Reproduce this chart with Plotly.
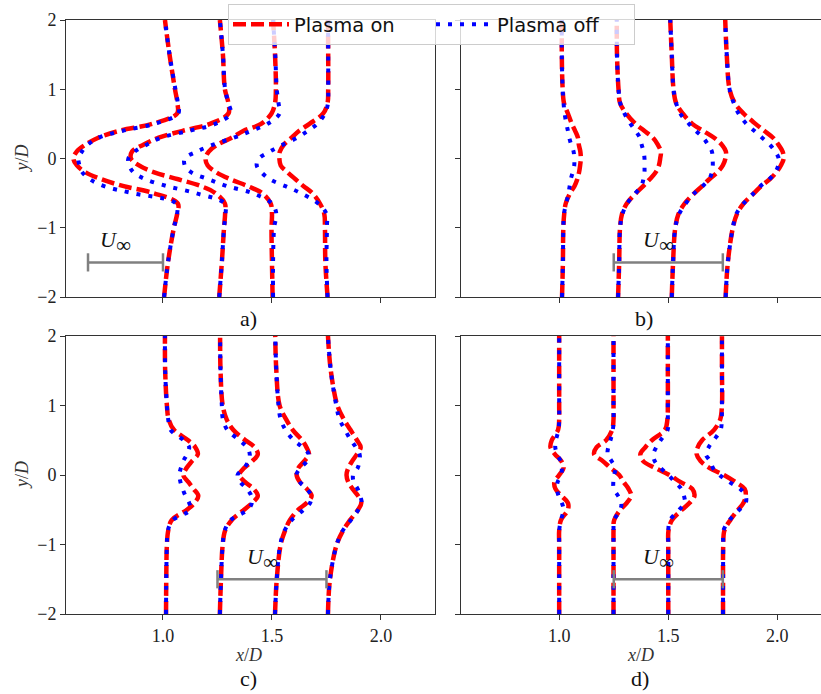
import plotly.graph_objects as go

# Common y/D sampling used by every profile
y_pos = [-2.0, -1.5, -1.0, -0.8, -0.65, -0.5, -0.4, -0.3, -0.2, -0.1, 0.0,
         0.1, 0.2, 0.3, 0.4, 0.5, 0.65, 0.8, 1.0, 1.5, 2.0]

# Streamwise stations x/D
stations = [1.0, 1.25, 1.5, 1.75]

# Profile positions (x/D) for each station; panel a
a_on = [
    [1.005, 1.023, 1.05, 1.065, 1.068, 0.956, 0.82, 0.718, 0.645, 0.605, 0.589, 0.604, 0.645, 0.703, 0.80, 0.95, 1.065, 1.066, 1.055, 1.03, 1.009],
    [1.258, 1.27, 1.28, 1.285, 1.284, 1.24, 1.175, 1.07, 0.96, 0.89, 0.853, 0.858, 0.91, 0.98, 1.09, 1.215, 1.30, 1.30, 1.284, 1.275, 1.261],
    [1.503, 1.5, 1.498, 1.5, 1.494, 1.455, 1.39, 1.31, 1.245, 1.205, 1.195, 1.21, 1.25, 1.315, 1.37, 1.45, 1.498, 1.514, 1.518, 1.514, 1.505],
    [1.755, 1.745, 1.743, 1.74, 1.72, 1.685, 1.645, 1.608, 1.572, 1.54, 1.534, 1.536, 1.555, 1.59, 1.625, 1.672, 1.735, 1.755, 1.758, 1.758, 1.757],
]
a_off = [
    [1.005, 1.023, 1.05, 1.065, 1.06, 0.86, 0.73, 0.665, 0.63, 0.617, 0.612, 0.628, 0.655, 0.705, 0.815, 0.96, 1.07, 1.068, 1.057, 1.03, 1.009],
    [1.258, 1.27, 1.28, 1.287, 1.283, 1.15, 1.02, 0.92, 0.865, 0.845, 0.841, 0.87, 0.925, 0.99, 1.12, 1.24, 1.31, 1.30, 1.285, 1.275, 1.261],
    [1.505, 1.505, 1.51, 1.52, 1.50, 1.41, 1.295, 1.21, 1.13, 1.10, 1.10, 1.155, 1.23, 1.325, 1.405, 1.48, 1.535, 1.53, 1.522, 1.515, 1.505],
    [1.755, 1.75, 1.752, 1.75, 1.712, 1.632, 1.562, 1.49, 1.452, 1.43, 1.44, 1.49, 1.55, 1.616, 1.665, 1.708, 1.743, 1.757, 1.758, 1.758, 1.757],
]

# Panel b
b_on = [
    [1.013, 1.017, 1.019, 1.023, 1.03, 1.05, 1.07, 1.083, 1.091, 1.096, 1.099, 1.097, 1.09, 1.086, 1.073, 1.058, 1.04, 1.022, 1.016, 1.012, 1.012],
    [1.27, 1.275, 1.279, 1.288, 1.31, 1.352, 1.385, 1.415, 1.442, 1.457, 1.463, 1.466, 1.452, 1.43, 1.39, 1.35, 1.307, 1.279, 1.272, 1.265, 1.264],
    [1.516, 1.522, 1.532, 1.547, 1.575, 1.62, 1.655, 1.688, 1.724, 1.75, 1.762, 1.764, 1.745, 1.71, 1.66, 1.61, 1.566, 1.536, 1.524, 1.516, 1.509],
    [1.763, 1.773, 1.796, 1.815, 1.845, 1.893, 1.925, 1.965, 1.995, 2.016, 2.029, 2.024, 2.005, 1.98, 1.94, 1.9, 1.845, 1.805, 1.781, 1.768, 1.761],
]
b_off = [
    [1.013, 1.017, 1.019, 1.022, 1.032, 1.043, 1.048, 1.053, 1.062, 1.069, 1.069, 1.066, 1.055, 1.046, 1.04, 1.033, 1.025, 1.02, 1.016, 1.012, 1.012],
    [1.27, 1.275, 1.279, 1.29, 1.312, 1.35, 1.376, 1.386, 1.391, 1.391, 1.391, 1.387, 1.378, 1.37, 1.35, 1.327, 1.299, 1.28, 1.272, 1.265, 1.264],
    [1.516, 1.522, 1.532, 1.55, 1.58, 1.62, 1.657, 1.687, 1.70, 1.704, 1.703, 1.70, 1.682, 1.66, 1.626, 1.595, 1.555, 1.536, 1.524, 1.516, 1.509],
    [1.763, 1.773, 1.796, 1.812, 1.845, 1.892, 1.922, 1.963, 1.99, 2.004, 2.006, 1.99, 1.965, 1.93, 1.894, 1.858, 1.822, 1.8, 1.781, 1.768, 1.761],
]

# Panel c
c_on = [
    [1.014, 1.015, 1.018, 1.024, 1.04, 1.11, 1.145, 1.162, 1.14, 1.116, 1.093, 1.108, 1.133, 1.16, 1.148, 1.115, 1.05, 1.026, 1.018, 1.01, 1.009],
    [1.261, 1.266, 1.274, 1.285, 1.315, 1.372, 1.41, 1.435, 1.416, 1.376, 1.35, 1.372, 1.41, 1.435, 1.42, 1.378, 1.322, 1.292, 1.274, 1.264, 1.262],
    [1.514, 1.522, 1.54, 1.56, 1.582, 1.62, 1.66, 1.682, 1.66, 1.628, 1.613, 1.621, 1.648, 1.67, 1.658, 1.638, 1.595, 1.565, 1.535, 1.52, 1.515],
    [1.757, 1.766, 1.797, 1.826, 1.858, 1.895, 1.91, 1.895, 1.87, 1.85, 1.842, 1.85, 1.868, 1.89, 1.907, 1.89, 1.86, 1.83, 1.80, 1.77, 1.757],
]
c_off = [
    [1.014, 1.015, 1.018, 1.022, 1.045, 1.125, 1.12, 1.103, 1.09, 1.08, 1.075, 1.082, 1.093, 1.11, 1.12, 1.095, 1.035, 1.024, 1.018, 1.01, 1.009],
    [1.261, 1.266, 1.274, 1.283, 1.31, 1.39, 1.408, 1.405, 1.385, 1.355, 1.342, 1.372, 1.392, 1.398, 1.385, 1.35, 1.295, 1.275, 1.27, 1.264, 1.262],
    [1.514, 1.522, 1.538, 1.558, 1.59, 1.645, 1.675, 1.68, 1.66, 1.627, 1.612, 1.63, 1.66, 1.668, 1.64, 1.60, 1.562, 1.54, 1.53, 1.52, 1.515],
    [1.757, 1.766, 1.797, 1.825, 1.862, 1.896, 1.911, 1.905, 1.893, 1.875, 1.872, 1.893, 1.902, 1.902, 1.885, 1.862, 1.835, 1.81, 1.795, 1.77, 1.757],
]

# Panel d
d_on = [
    [1.0, 1.0, 1.0, 1.0, 1.008, 1.04, 1.04, 1.01, 0.983, 0.978, 1.0, 1.02, 1.01, 0.98, 0.96, 0.966, 0.995, 1.0, 1.0, 1.0, 1.0],
    [1.249, 1.249, 1.249, 1.249, 1.252, 1.28, 1.31, 1.33, 1.318, 1.295, 1.275, 1.236, 1.2, 1.16, 1.172, 1.215, 1.243, 1.249, 1.249, 1.249, 1.249],
    [1.5, 1.5, 1.5, 1.501, 1.517, 1.563, 1.598, 1.62, 1.61, 1.555, 1.505, 1.44, 1.385, 1.372, 1.395, 1.425, 1.485, 1.496, 1.498, 1.498, 1.498],
    [1.751, 1.751, 1.752, 1.757, 1.784, 1.82, 1.845, 1.855, 1.85, 1.807, 1.755, 1.69, 1.648, 1.63, 1.635, 1.655, 1.71, 1.738, 1.746, 1.746, 1.746],
]
d_off = [
    [1.0, 1.0, 1.0, 1.0, 1.008, 1.02, 1.012, 0.997, 0.99, 0.993, 1.01, 1.012, 1.007, 0.99, 0.982, 0.985, 0.997, 1.0, 1.0, 1.0, 1.0],
    [1.249, 1.249, 1.249, 1.249, 1.252, 1.28, 1.285, 1.27, 1.25, 1.248, 1.252, 1.258, 1.24, 1.222, 1.225, 1.235, 1.246, 1.249, 1.249, 1.249, 1.249],
    [1.5, 1.5, 1.5, 1.5, 1.508, 1.55, 1.575, 1.572, 1.56, 1.53, 1.5, 1.465, 1.438, 1.432, 1.445, 1.465, 1.497, 1.498, 1.498, 1.498, 1.498],
    [1.751, 1.751, 1.752, 1.753, 1.78, 1.826, 1.855, 1.855, 1.83, 1.78, 1.735, 1.705, 1.692, 1.672, 1.685, 1.708, 1.74, 1.745, 1.746, 1.746, 1.746],
]

# Free-stream velocity reference bars (x start, x end, y) per panel
uinf_start = [0.656, 1.25, 1.25, 1.25]
uinf_end = [1.0, 1.75, 1.75, 1.75]
uinf_y = [-1.5, -1.5, -1.5, -1.5]

panel_labels = ["a)", "b)", "c)", "d)"]
y_ticks = [-2, -1, 0, 1, 2]
y_ticktext = ["\u22122", "\u22121", "0", "1", "2"]
x_ticks = [1.0, 1.5, 2.0]
x_ticktext = ["1.0", "1.5", "2.0"]

RED = "#ff0000"
BLUE = "#0000ff"
GREY = "#808080"
SPINE = "#333333"
SERIF = "Liberation Serif, Times New Roman, serif"
SANS = "DejaVu Sans, Arial, sans-serif"

W, H = 821, 694


def px_x(p):
    return p / W


def px_y(p):
    return 1 - p / H


# Panel frames in pixels: (left, right, top, bottom) and x ranges
frames = [
    (66, 435, 20, 297),
    (461, 821, 20, 297),
    (66, 435, 336, 614),
    (461, 821, 336, 614),
]
x_ranges = [[0.555, 2.248], [0.55, 2.2], [0.555, 2.248], [0.55, 2.2]]
label_cx = [248, 644, 248, 640]

panels_on = [a_on, b_on, c_on, d_on]
panels_off = [a_off, b_off, c_off, d_off]

fig = go.Figure()

for i in range(4):
    xa = "x" if i == 0 else f"x{i + 1}"
    ya = "y" if i == 0 else f"y{i + 1}"
    for k, prof in enumerate(panels_on[i]):
        fig.add_trace(go.Scatter(
            x=prof, y=y_pos, xaxis=xa, yaxis=ya, mode="lines",
            line=dict(color=RED, width=4.5, dash="13px,5px", shape="spline"),
            name="Plasma on", legendgroup="on",
            showlegend=(i == 0 and k == 0), hoverinfo="skip"))
    for k, prof in enumerate(panels_off[i]):
        fig.add_trace(go.Scatter(
            x=prof, y=y_pos, xaxis=xa, yaxis=ya, mode="lines",
            line=dict(color=BLUE, width=4, dash="4px,8px", shape="spline"),
            name="Plasma off", legendgroup="off",
            showlegend=(i == 0 and k == 0), hoverinfo="skip"))
    # U_inf scale bar with end caps
    fig.add_trace(go.Scatter(
        x=[uinf_start[i], uinf_end[i]], y=[uinf_y[i], uinf_y[i]],
        xaxis=xa, yaxis=ya, mode="lines+markers",
        line=dict(color=GREY, width=2.5),
        marker=dict(symbol="line-ns-open", size=13, line=dict(color=GREY, width=2.5)),
        showlegend=False, hoverinfo="skip"))

annotations = []
for i in range(4):
    l, r, t, b = frames[i]
    key = "" if i == 0 else str(i + 1)
    bottom_row = i >= 2
    left_col = i % 2 == 0
    fig.layout["xaxis" + key] = dict(
        domain=[px_x(l), min(px_x(r), 1.0)], range=x_ranges[i],
        anchor="y" + key, showline=True, linecolor=SPINE, linewidth=1,
        mirror=True, ticks="outside", ticklen=5, tickcolor=SPINE,
        tickvals=x_ticks, ticktext=x_ticktext, showticklabels=bottom_row,
        showgrid=False, zeroline=False, automargin=False,
        tickfont=dict(family=SERIF, size=18, color="#222"))
    fig.layout["yaxis" + key] = dict(
        domain=[px_y(b), px_y(t)], range=[-2, 2],
        anchor="x" + key, showline=True, linecolor=SPINE, linewidth=1,
        mirror=left_col, ticks="outside", ticklen=5, tickcolor=SPINE,
        tickvals=y_ticks, ticktext=y_ticktext, showticklabels=left_col,
        showgrid=False, zeroline=False, automargin=False,
        tickfont=dict(family=SERIF, size=18, color="#222"))

    xref = "x" if i == 0 else f"x{i + 1}"
    yref = "y" if i == 0 else f"y{i + 1}"
    # U_inf label above the bar
    annotations.append(dict(
        x=(uinf_start[i] + uinf_end[i]) / 2 - 0.045, y=uinf_y[i], xref=xref, yref=yref,
        text="<i>U</i><sub><span style='font-size:21px'>\u221e</span></sub>",
        showarrow=False, yanchor="bottom", yshift=3,
        font=dict(family=SERIF, size=22, color="#111")))
    # panel letter
    label_py = 318 if not bottom_row else 678
    annotations.append(dict(
        x=px_x(label_cx[i]), y=px_y(label_py), xref="paper", yref="paper",
        text=panel_labels[i], showarrow=False, xanchor="center", yanchor="middle",
        font=dict(family=SERIF, size=22, color="#111")))
    if left_col:
        annotations.append(dict(
            x=px_x(22), y=px_y((t + b) / 2), xref="paper", yref="paper",
            text="<i>y</i>/<i>D</i>", showarrow=False, textangle=-90,
            xanchor="center", yanchor="middle",
            font=dict(family=SERIF, size=18, color="#333")))
    if bottom_row:
        annotations.append(dict(
            x=px_x(label_cx[i]), y=px_y(655), xref="paper", yref="paper",
            text="<i>x</i>/<i>D</i>", showarrow=False, xanchor="center", yanchor="middle",
            font=dict(family=SERIF, size=18, color="#333")))

fig.update_layout(
    width=W, height=H,
    margin=dict(l=0, r=0, t=0, b=0),
    paper_bgcolor="white", plot_bgcolor="white",
    annotations=annotations,
    legend=dict(
        orientation="h", x=px_x(228), y=px_y(4), xanchor="left", yanchor="top",
        bgcolor="rgba(255,255,255,0.8)", bordercolor="#cccccc", borderwidth=1,
        font=dict(family=SANS, size=19.5, color="#111"),
        itemwidth=56, entrywidth=132, entrywidthmode="pixels", tracegroupgap=0),
)

fig.write_html("out.html")
